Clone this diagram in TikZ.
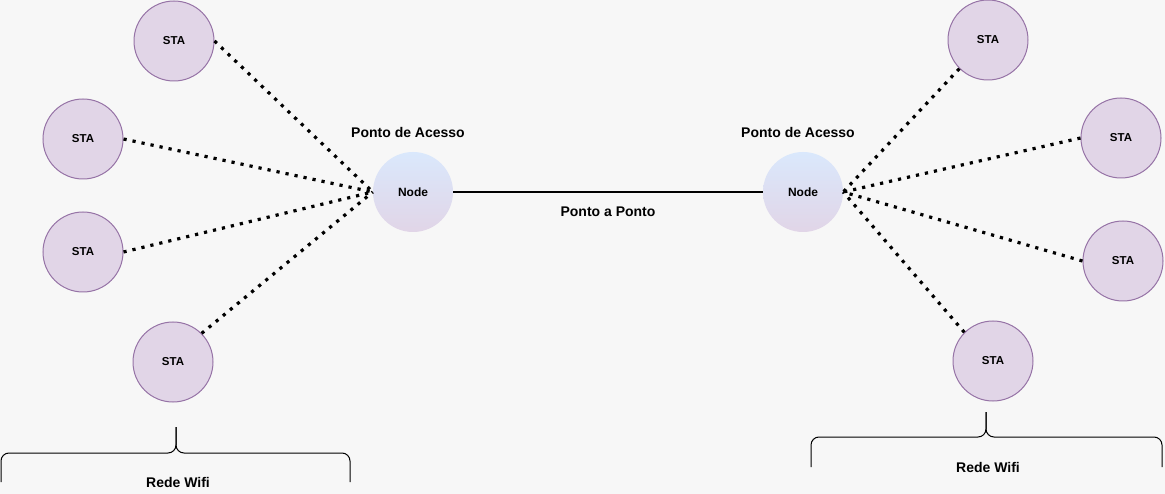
\documentclass[tikz,border=0pt]{standalone}
\usepackage{fontspec}
\setmainfont{Liberation Sans}
\usetikzlibrary{positioning}
\definecolor{bgGray}{HTML}{F7F7F7}
\definecolor{staFill}{HTML}{E1D5E7}
\definecolor{staLine}{HTML}{9673A6}
\definecolor{apTop}{HTML}{DAE8FC}
\tikzset{
  sta/.style  = {circle, draw=staLine, fill=staFill, line width=1pt,
                 minimum size=80pt, inner sep=0pt,
                 font=\bfseries\fontsize{11.5}{13}\selectfont},
  ap/.style   = {circle, top color=apTop, bottom color=staFill,
                 minimum size=80pt, inner sep=0pt,
                 font=\bfseries\fontsize{12}{14}\selectfont},
  wifi/.style = {line width=3.2pt, dash pattern=on 3.2pt off 6pt},
  link/.style = {line width=1.5pt},
  lbl/.style  = {font=\bfseries\fontsize{14}{16}\selectfont},
  brc/.style  = {rounded corners=8pt, line width=1pt}
}

\begin{document}
\begin{tikzpicture}[x=1pt, y=-1pt]

  % ── Canvas ────────────────────────────────────────────────────────────────
  \fill[bgGray] (0,0) rectangle (1165,494);
  \useasboundingbox (0,0) rectangle (1165,494);

  % ── Access points ─────────────────────────────────────────────────────────
  \node[ap] (apL) at (413,192) {Node};
  \node[ap] (apR) at (803,192) {Node};
  \node[lbl] (apLlbl) at (408,132) {Ponto de Acesso};
  \node[lbl] (apRlbl) at (798,132) {Ponto de Acesso};

  % ── Stations, left network ────────────────────────────────────────────────
  \node[sta] (staL1) at (174,41)  {STA};
  \node[sta] (staL2) at (83,139)  {STA};
  \node[sta] (staL3) at (83,252)  {STA};
  \node[sta] (staL4) at (173,362) {STA};

  % ── Stations, right network ───────────────────────────────────────────────
  \node[sta] (staR1) at (988,40)   {STA};
  \node[sta] (staR2) at (1121,138) {STA};
  \node[sta] (staR3) at (1123,261) {STA};
  \node[sta] (staR4) at (993,361)  {STA};

  % ── Point to point link ───────────────────────────────────────────────────
  \draw[link] (apL.east) -- node[lbl, below=11pt]{Ponto a Ponto} (apR.west);

  % ── Wifi links ────────────────────────────────────────────────────────────
  \draw[wifi] (staL1.east)       -- (apL.west);
  \draw[wifi] (staL2.east)       -- (apL.west);
  \draw[wifi] (staL3.east)       -- (apL.west);
  \draw[wifi] (staL4.north east) -- (apL.west);
  \draw[wifi] (staR1.south west) -- (apR.east);
  \draw[wifi] (staR2.west)       -- (apR.east);
  \draw[wifi] (staR3.west)       -- (apR.east);
  \draw[wifi] (staR4.north west) -- (apR.east);

  % ── Braces ────────────────────────────────────────────────────────────────
  \coordinate (brLtip) at (176,427);
  \coordinate (brLmid) at (176,453);
  \draw[brc] (1,482)   -- (1,453)   -- (brLmid) -- (brLtip);
  \draw[brc] (350,482) -- (350,453) -- (brLmid) -- (brLtip);
  \node[lbl] (wifiL) at (178,482) {Rede Wifi};

  \coordinate (brRtip) at (986,412);
  \coordinate (brRmid) at (986,437);
  \draw[brc] (811,467)  -- (811,437)  -- (brRmid) -- (brRtip);
  \draw[brc] (1162,467) -- (1162,437) -- (brRmid) -- (brRtip);
  \node[lbl] (wifiR) at (988,467) {Rede Wifi};

\end{tikzpicture}
\end{document}
